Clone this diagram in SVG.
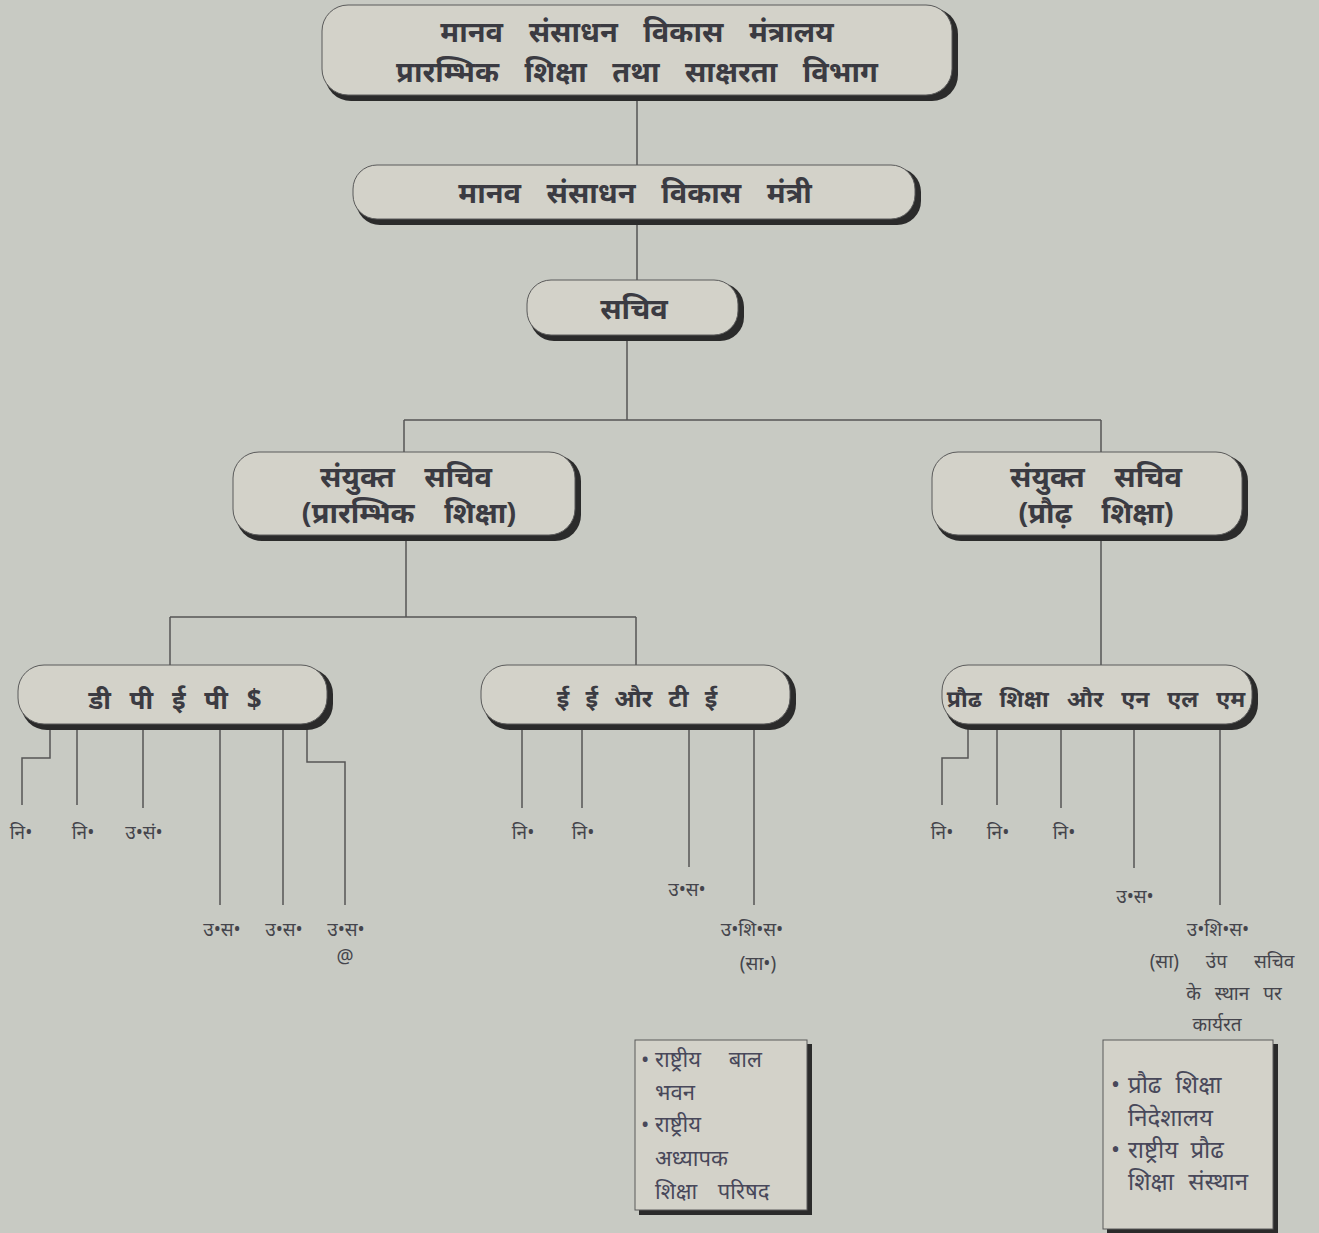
<svg xmlns="http://www.w3.org/2000/svg" width="1319" height="1233" viewBox="0 0 1319 1233">
<defs>
<style>
.bg{fill:#c8cac3}
.sh{fill:#2b2b2b}
.box{fill:#d3d2c9;stroke:#5a5a5a;stroke-width:1}
.t{font-family:"Noto Sans","Liberation Sans",sans-serif;font-weight:bold;fill:#3b3b42;text-anchor:middle}
.big{font-size:29px;word-spacing:18px}
.mid{font-size:29px;word-spacing:22px}
.lab{font-family:"Noto Sans","Liberation Sans",sans-serif;font-size:19px;fill:#45454c;text-anchor:middle}
.list{font-family:"Noto Sans","Liberation Sans",sans-serif;font-size:22px;fill:#48485a}
.lb{font-size:24px}
.c{fill:none;stroke:#555;stroke-width:1.5}
</style>
</defs>
<rect class="bg" x="0" y="0" width="1319" height="1233"/>
<g id="connectors">
<path class="c" d="M637 98V165"/>
<path class="c" d="M637 222V280"/>
<path class="c" d="M627 338V420M404 420H1101M404 420V452M1101 420V452"/>
<path class="c" d="M406 538V617M170 617H636M170 617V665M636 617V665"/>
<path class="c" d="M1101 538V665"/>
<path class="c" d="M50 727V758H22V805M77 727V805M143 730V808M220 727V905M283 727V905M307 727V762H345V905"/>
<path class="c" d="M522 727V808M582 727V808M689 727V867M754 727V905"/>
<path class="c" d="M968 727V758H942V805M997 727V805M1061 727V808M1134 727V868M1220 727V905"/>
</g>
<g id="n1">
<rect class="sh" x="325" y="8" width="633" height="93" rx="26"/>
<rect class="box" x="322" y="5" width="630" height="90" rx="26"/>
<text class="t big" x="637" y="42">मानव संसाधन विकास मंत्रालय</text>
<text class="t big" x="637" y="82">प्रारम्भिक शिक्षा तथा साक्षरता विभाग</text>
</g>
<g id="n2">
<rect class="sh" x="356" y="168" width="565" height="57" rx="24"/>
<rect class="box" x="353" y="165" width="562" height="54" rx="24"/>
<text class="t big" x="635" y="203">मानव संसाधन विकास मंत्री</text>
</g>
<g id="n3">
<rect class="sh" x="530" y="283" width="214" height="58" rx="24"/>
<rect class="box" x="527" y="280" width="211" height="55" rx="24"/>
<text class="t mid" x="634" y="319">सचिव</text>
</g>
<g id="n4">
<rect class="sh" x="236" y="455" width="345" height="86" rx="26"/>
<rect class="box" x="233" y="452" width="342" height="83" rx="26"/>
<text class="t mid" x="406" y="487">संयुक्त सचिव</text>
<text class="t mid" x="409" y="523">(प्रारम्भिक शिक्षा)</text>
</g>
<g id="n5">
<rect class="sh" x="935" y="455" width="313" height="86" rx="26"/>
<rect class="box" x="932" y="452" width="310" height="83" rx="26"/>
<text class="t mid" x="1096" y="487">संयुक्त सचिव</text>
<text class="t mid" x="1096" y="523">(प्रौढ़ शिक्षा)</text>
</g>
<g id="n6">
<rect class="sh" x="21" y="668" width="312" height="62" rx="26"/>
<rect class="box" x="18" y="665" width="309" height="59" rx="26"/>
<text class="t" style="font-size:26px;word-spacing:12px" x="175" y="709">डी पी ई पी $</text>
</g>
<g id="n7">
<rect class="sh" x="484" y="668" width="312" height="62" rx="26"/>
<rect class="box" x="481" y="665" width="309" height="59" rx="26"/>
<text class="t" style="font-size:24px;word-spacing:10px" x="637" y="707">ई ई और टी ई</text>
</g>
<g id="n8">
<rect class="sh" x="945" y="668" width="313" height="62" rx="26"/>
<rect class="box" x="942" y="665" width="310" height="59" rx="26"/>
<text class="t" style="font-size:23px;word-spacing:12px" x="1096" y="707">प्रौढ शिक्षा और एन एल एम</text>
</g>
<g id="labels">
<text class="lab" x="21" y="839">नि•</text>
<text class="lab" x="83" y="839">नि•</text>
<text class="lab" x="144" y="839">उ•सं•</text>
<text class="lab" x="222" y="936">उ•स•</text>
<text class="lab" x="284" y="936">उ•स•</text>
<text class="lab" x="346" y="936">उ•स•</text>
<text class="lab" x="345" y="963">@</text>
<text class="lab" x="523" y="839">नि•</text>
<text class="lab" x="583" y="839">नि•</text>
<text class="lab" x="687" y="896">उ•स•</text>
<text class="lab" x="752" y="936">उ•शि•स•</text>
<text class="lab" x="758" y="970">(सा•)</text>
<text class="lab" x="942" y="839">नि•</text>
<text class="lab" x="998" y="839">नि•</text>
<text class="lab" x="1064" y="839">नि•</text>
<text class="lab" x="1135" y="903">उ•स•</text>
<text class="lab" x="1218" y="936">उ•शि•स•</text>
<text class="lab" x="1222" y="968" style="word-spacing:22px">(सा) उंप सचिव</text>
<text class="lab" x="1234" y="1000" style="word-spacing:9px">के स्थान पर</text>
<text class="lab" x="1217" y="1031">कार्यरत</text>
</g>
<g id="nA">
<rect class="sh" x="639" y="1044" width="173" height="171"/>
<rect class="box" x="635" y="1040" width="172" height="170"/>
<text class="list" x="641" y="1067">•</text>
<text class="list" x="655" y="1067" style="word-spacing:22px">राष्ट्रीय बाल</text>
<text class="list" x="655" y="1100">भवन</text>
<text class="list" x="641" y="1132">•</text>
<text class="list" x="655" y="1132">राष्ट्रीय</text>
<text class="list" x="655" y="1166">अध्यापक</text>
<text class="list" x="655" y="1199" style="word-spacing:15px">शिक्षा परिषद</text>
</g>
<g id="nB">
<rect class="sh" x="1107" y="1044" width="171" height="189"/>
<rect class="box" x="1103" y="1040" width="170" height="189"/>
<text class="list lb" x="1111" y="1093">•</text>
<text class="list lb" x="1128" y="1093" style="word-spacing:8px">प्रौढ शिक्षा</text>
<text class="list lb" x="1128" y="1126">निदेशालय</text>
<text class="list lb" x="1111" y="1158">•</text>
<text class="list lb" x="1128" y="1158" style="word-spacing:6px">राष्ट्रीय प्रौढ</text>
<text class="list lb" x="1128" y="1190" style="word-spacing:8px">शिक्षा संस्थान</text>
</g>
</svg>
